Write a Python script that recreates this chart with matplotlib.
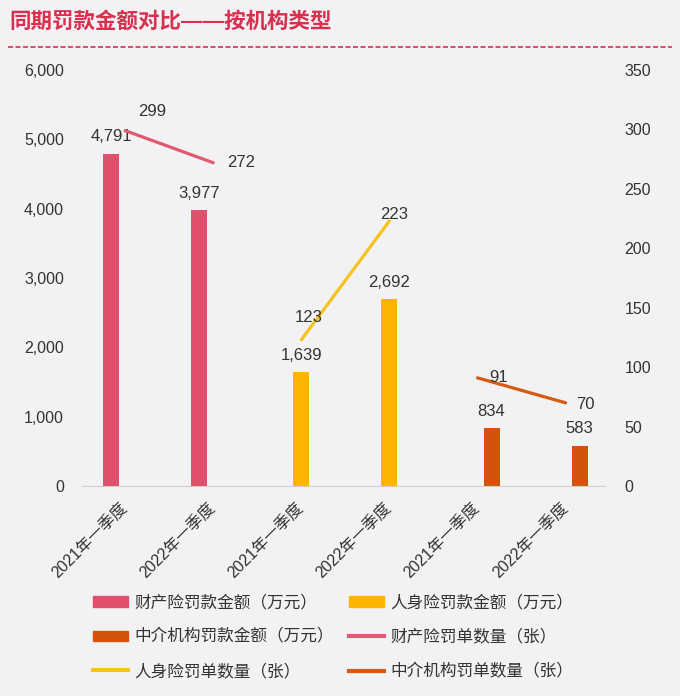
import numpy as np
import matplotlib.pyplot as plt
from matplotlib.lines import Line2D
from matplotlib.patches import Patch

plt.rcParams['font.family'] = ['Liberation Sans', 'Noto Sans CJK SC', 'DejaVu Sans']

# 类别（每个机构类型两期）
cats = ["2021年一季度", "2022年一季度"] * 3
groups = ["财产险", "人身险", "中介机构"]

# 罚款金额（万元）
amount = {"财产险": [4791, 3977], "人身险": [1639, 2692], "中介机构": [834, 583]}
# 罚单数量（张）
count = {"财产险": [299, 272], "人身险": [123, 223], "中介机构": [91, 70]}

bar_colors = {"财产险": "#e0506c", "人身险": "#ffb400", "中介机构": "#d4520a"}
line_colors = {"财产险": "#e15a72", "人身险": "#f6c21c", "中介机构": "#d65a12"}

bg = "#f2f2f4"
txt = "#333333"

fig = plt.figure(figsize=(6.8, 6.96), dpi=100, facecolor=bg)
ax = fig.add_axes([0.1206, 0.3017, 0.7694, 0.5977])
ax.set_facecolor(bg)
ax2 = ax.twinx()

x = np.arange(len(cats))
offs = [-0.16, 0.0, 0.16]
w = 0.18

# 柱子
for gi, g in enumerate(groups):
    xs = x[2 * gi:2 * gi + 2] + offs[gi]
    ax.bar(xs, amount[g], width=w, color=bar_colors[g], zorder=2)
    for xx, v in zip(xs, amount[g]):
        ax.annotate(f"{v:,}", (xx, v), xytext=(0, 17), textcoords="offset pixels",
                    ha="center", va="center", fontsize=12, color=txt)

# 折线
line_offsets = {
    "财产险": [(27, 19), (28, 0)],
    "人身险": [(7, 22), (5, 6)],
    "中介机构": [(21, 0), (20, -2)],
}
for gi, g in enumerate(groups):
    xs = x[2 * gi:2 * gi + 2]
    ax2.plot(xs, count[g], color=line_colors[g], lw=2.3, solid_capstyle="round", zorder=3)
    for xx, v, o in zip(xs, count[g], line_offsets[g]):
        ax2.annotate(str(v), (xx, v), xytext=o, textcoords="offset pixels",
                     ha="center", va="center", fontsize=12, color=txt)

ax.set_xlim(-0.49, 5.45)
ax.set_ylim(0, 6000)
ax2.set_ylim(0, 350)
ax.set_yticks(np.arange(0, 6001, 1000))
ax.set_yticklabels([f"{v:,}" for v in range(0, 6001, 1000)])
ax2.set_yticks(np.arange(0, 351, 50))

ax.set_xticks(x)
ax.set_xticklabels(cats, rotation=45, ha="right", va="center", rotation_mode="anchor")

for a in (ax, ax2):
    for s in a.spines.values():
        s.set_visible(False)
    a.tick_params(length=0, labelsize=11.5, colors=txt)
ax.spines["bottom"].set_visible(True)
ax.spines["bottom"].set_color("#cfcfcf")
ax.tick_params(axis="y", pad=13)
ax2.tick_params(axis="y", pad=14)
ax.tick_params(axis="x", pad=14)

# 标题
fig.text(0.014, 0.968, "同期罚款金额对比——按机构类型", fontsize=15.5, fontweight="bold",
         color="#d8304e", ha="left", va="center")
fig.add_artist(Line2D([0.012, 0.988], [0.932, 0.932], transform=fig.transFigure,
                      color="#d8304e", lw=1.2, ls=(0, (3, 1.5))))

# 图例（按行排列：两列）
h_bar = {g: Patch(color=bar_colors[g]) for g in groups}
h_line = {g: Line2D([], [], color=line_colors[g], lw=3) for g in groups}
handles = [h_bar["财产险"], h_bar["中介机构"], h_line["人身险"],
           h_bar["人身险"], h_line["财产险"], h_line["中介机构"]]
labels = ["财产险罚款金额（万元）", "中介机构罚款金额（万元）", "人身险罚单数量（张）",
          "人身险罚款金额（万元）", "财产险罚单数量（张）", "中介机构罚单数量（张）"]
fig.legend(handles, labels, ncol=2, loc="center", bbox_to_anchor=(0.49, 0.085),
           frameon=False, fontsize=12, labelcolor=txt, handlelength=2.1,
           handleheight=0.6, labelspacing=1.1, columnspacing=0.9, handletextpad=0.4)

fig.savefig("out.png", dpi=100, facecolor=bg)
